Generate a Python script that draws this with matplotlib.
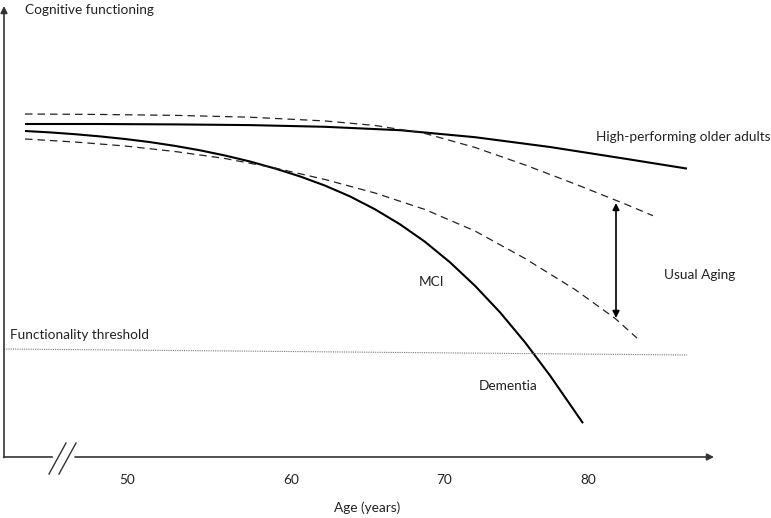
import matplotlib
matplotlib.use("Agg")
import matplotlib.pyplot as plt

# Diagram coordinates (x: horizontal position, y: cognitive level, downward = lower)
high_x = [25, 100, 175, 250, 325, 400, 475, 550, 625, 687]
high_y = [124, 124, 124.4, 125.1, 126.8, 130.2, 137.2, 147.0, 158.7, 168.6]

upper_x = [25, 100, 175, 250, 325, 375, 425, 475, 525, 575, 625, 653]
upper_y = [114, 114.45, 115.35, 117.2, 120.95, 125.45, 133.45, 147.45, 164.95, 183.95, 203.95, 215.7]

lower_x = [25, 75, 125, 175, 225, 275, 325, 375, 425, 475, 525, 575, 615, 637]
lower_y = [139, 142, 146, 151.5, 158.5, 168, 179.5, 193, 209.5, 231, 258.5, 289.5, 318.3, 338.1]

mci_x = [25, 50, 75, 100, 125, 150, 175, 200, 225, 250, 275, 300, 325, 350, 375,
         400, 425, 450, 475, 500, 525, 550, 583]
mci_y = [131, 132.4, 134.2, 136.4, 139.0, 142.1, 145.9, 150.3, 155.5, 161.5, 168.5,
         176.4, 185.6, 196.4, 209.3, 224.3, 241.8, 262.3, 285.8, 312.3, 342.3, 375.5, 423.2]

threshold_x = [4, 687]
threshold_y = [349, 355]

tick_labels = ["50", "60", "70", "80"]
tick_pos = [127, 291, 444, 588]

FONT = "Lato"
TXT = "#222222"
FS = 9.8

fig = plt.figure(figsize=(7.71, 5.18), dpi=100)
ax = fig.add_axes([0, 0, 1, 1])
ax.set_xlim(0, 771)
ax.set_ylim(518, 0)
ax.axis("off")

# curves
ax.plot(high_x, high_y, color="black", lw=1.5, solid_capstyle="butt", solid_joinstyle="round")
ax.plot(mci_x, mci_y, color="black", lw=1.5, solid_capstyle="butt", solid_joinstyle="round")
ax.plot(upper_x, upper_y, color="#222222", lw=0.9, linestyle=(0, (6, 4)))
ax.plot(lower_x, lower_y, color="#222222", lw=0.9, linestyle=(0, (6, 4)))

# threshold
ax.plot(threshold_x, threshold_y, color="#777777", lw=0.8, linestyle=(0, (1, 1)))

# axes
axis_col = "#333333"
ax.annotate("", xy=(4, 6), xytext=(4, 457.5),
            arrowprops=dict(arrowstyle="-|>", lw=1.2, color=axis_col, mutation_scale=10,
                            shrinkA=0, shrinkB=0))
ax.plot([4, 52], [457, 457], color=axis_col, lw=1.2)
ax.annotate("", xy=(714, 457), xytext=(75, 457),
            arrowprops=dict(arrowstyle="-|>", lw=1.2, color=axis_col, mutation_scale=10,
                            shrinkA=0, shrinkB=0))
ax.plot([49, 66], [474, 443], color=axis_col, lw=1.0)
ax.plot([59, 76], [474, 443], color=axis_col, lw=1.0)

# double arrow (usual aging range)
ax.annotate("", xy=(616, 203), xytext=(616, 318),
            arrowprops=dict(arrowstyle="<|-|>", lw=1.2, color="black", mutation_scale=10,
                            shrinkA=0, shrinkB=0))

# texts
for lab, p in zip(tick_labels, tick_pos):
    ax.text(p, 480, lab, ha="center", va="center", fontsize=FS, family=FONT, color=TXT)
ax.text(367, 508, "Age (years)", ha="center", va="center", fontsize=FS, family=FONT, color=TXT)
ax.text(25, 10, "Cognitive functioning", ha="left", va="center", fontsize=FS, family=FONT, color=TXT)
ax.text(10, 335, "Functionality threshold", ha="left", va="center", fontsize=FS, family=FONT, color=TXT)
ax.text(596, 137, "High-performing older adults", ha="left", va="center", fontsize=FS, family=FONT, color=TXT)
ax.text(700, 275, "Usual Aging", ha="center", va="center", fontsize=FS, family=FONT, color=TXT)
ax.text(432, 282, "MCI", ha="center", va="center", fontsize=FS, family=FONT, color=TXT)
ax.text(508, 386, "Dementia", ha="center", va="center", fontsize=FS, family=FONT, color=TXT)

fig.savefig("out.png", dpi=100)
